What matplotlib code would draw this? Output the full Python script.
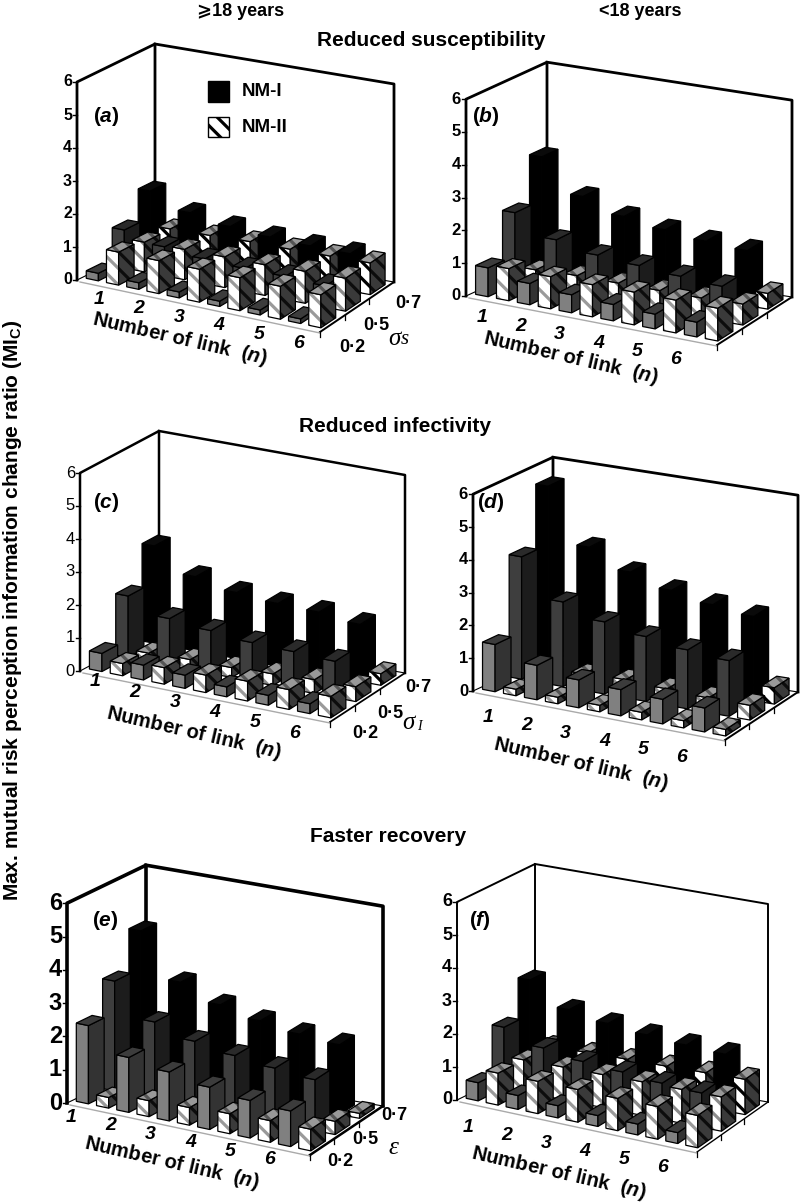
import numpy as np
import matplotlib
matplotlib.use("Agg")
import matplotlib.pyplot as plt
from matplotlib.patches import Polygon

plt.rcParams['font.family'] = ['Liberation Sans', 'DejaVu Sans']
plt.rcParams['mathtext.fontset'] = 'custom'
plt.rcParams['mathtext.bf'] = 'Liberation Sans:bold'
plt.rcParams['mathtext.it'] = 'Liberation Sans:italic:bold'
plt.rcParams['hatch.linewidth'] = 2.3

# bar heights, rows are the three parameter levels (0.2, 0.5, 0.7), columns the link numbers
a_nm1 = [[0.23, 0.20, 0.18, 0.16, 0.15, 0.14],
         [1.15, 0.88, 0.75, 0.70, 0.70, 0.65],
         [1.94, 1.50, 1.30, 1.20, 1.15, 1.13]]
a_nm2 = [[1.00, 1.00, 1.00, 1.00, 1.00, 1.00],
         [0.90, 0.92, 0.93, 0.93, 0.97, 1.00],
         [0.90, 0.92, 0.95, 0.94, 0.95, 0.96]]
b_nm1 = [[0.88, 0.65, 0.55, 0.50, 0.45, 0.45],
         [2.18, 1.58, 1.34, 1.25, 1.15, 1.07],
         [3.50, 2.50, 2.10, 1.90, 1.76, 1.68]]
b_nm2 = [[0.98, 0.98, 0.98, 1.00, 1.00, 1.00],
         [0.55, 0.60, 0.60, 0.60, 0.60, 0.64],
         [0.45, 0.45, 0.45, 0.45, 0.45, 0.48]]
c_nm1 = [[0.55, 0.45, 0.40, 0.30, 0.30, 0.30],
         [1.86, 1.42, 1.30, 1.18, 1.15, 1.10],
         [2.95, 2.25, 2.00, 1.90, 1.87, 1.73]]
c_nm2 = [[0.37, 0.50, 0.53, 0.60, 0.60, 0.65],
         [0.25, 0.30, 0.30, 0.35, 0.42, 0.45],
         [0.20, 0.25, 0.25, 0.30, 0.30, 0.35]]
d_nm1 = [[1.44, 1.05, 0.85, 0.80, 0.75, 0.73],
         [3.73, 2.58, 2.20, 1.98, 1.80, 1.70],
         [5.50, 3.85, 3.30, 2.95, 2.72, 2.57]]
d_nm2 = [[0.20, 0.20, 0.20, 0.23, 0.22, 0.20],
         [0.35, 0.50, 0.55, 0.50, 0.45, 0.45],
         [0.40, 0.40, 0.40, 0.40, 0.45, 0.50]]
e_nm1 = [[2.35, 1.65, 1.47, 1.27, 1.13, 1.07],
         [3.30, 2.31, 1.97, 1.78, 1.64, 1.53],
         [4.42, 3.10, 2.64, 2.38, 2.20, 2.10]]
e_nm2 = [[0.32, 0.48, 0.53, 0.60, 0.65, 0.65],
         [0.30, 0.30, 0.30, 0.35, 0.40, 0.40],
         [0.10, 0.10, 0.12, 0.12, 0.15, 0.15]]
f_nm1 = [[0.55, 0.42, 0.37, 0.33, 0.33, 0.33],
         [1.84, 1.45, 1.28, 1.20, 1.10, 1.04],
         [2.88, 2.20, 2.00, 1.87, 1.78, 1.72]]
f_nm2 = [[0.97, 0.98, 0.99, 0.98, 0.99, 0.98],
         [0.97, 0.99, 1.00, 1.02, 1.03, 1.04],
         [1.00, 1.00, 1.02, 1.03, 1.05, 1.07]]

n_labels = ['1', '2', '3', '4', '5', '6']
z_labels = ['0', '1', '2', '3', '4', '5', '6']
level_labels = ['0·2', '0·5', '0·7']

# pixel layout of every panel: floor corners, wall height, label places
panels = [
    dict(tag='a', nm1=a_nm1, nm2=a_nm2, FL=(77, 280), FR=(320, 332), BL=(155, 242), BR=(394, 282), zs=33.0,
         lw=2.0, tick=(72, 11.5, 'bold'), tag_xy=(106, 117), n_first=(99, 300), n_last=(299, 343),
         title_xy=(180, 339), levels=[(352, 348), (376, 326), (408, 303)], sym=('σ', 's', (394, 339), False)),
    dict(tag='b', nm1=b_nm1, nm2=b_nm2, FL=(466, 296), FR=(717, 345), BL=(547, 259), BR=(792, 297), zs=32.8,
         lw=2.0, tick=(461, 12, 'bold'), tag_xy=(486, 116), n_first=(482, 318), n_last=(676, 360),
         title_xy=(571, 358), levels=None, sym=None),
    dict(tag='c', nm1=c_nm1, nm2=c_nm2, FL=(80, 671), FR=(330, 722), BL=(159, 629), BR=(405, 673), zs=33.0,
         lw=1.8, tick=(75, 12, 'normal'), tag_xy=(106, 503), n_first=(95, 682), n_last=(295, 733),
         title_xy=(194, 733), levels=[(365, 734), (390, 713), (418, 688)], sym=('σ', 'I', (408, 723), True)),
    dict(tag='d', nm1=d_nm1, nm2=d_nm2, FL=(473, 691), FR=(725, 740), BL=(553, 654), BR=(798, 692), zs=32.8,
         lw=2.0, tick=(468, 12, 'bold'), tag_xy=(491, 503), n_first=(488, 717), n_last=(682, 757),
         title_xy=(581, 764), levels=None, sym=None),
    dict(tag='e', nm1=e_nm1, nm2=e_nm2, FL=(67, 1103), FR=(310, 1155), BL=(146, 1065), BR=(383, 1106), zs=33.3,
         lw=2.6, tick=(62, 17, 'bold'), tag_xy=(105, 920), n_first=(71, 1117), n_last=(270, 1160),
         title_xy=(172, 1163), levels=[(340, 1161), (365, 1139), (394, 1116)], sym=('ε', '', (393, 1148), False)),
    dict(tag='f', nm1=f_nm1, nm2=f_nm2, FL=(457, 1100), FR=(697, 1152), BL=(535, 1062), BR=(768, 1102), zs=33.0,
         lw=1.4, tick=(452, 13, 'bold'), tag_xy=(480, 921), n_first=(468, 1127), n_last=(663, 1167),
         title_xy=(559, 1173), levels=None, sym=None),
]

# face colours per row: NM-I (front, side, top), NM-II (front, front stripe, side, top)
NM1_COLORS = [('#808080', '#333333', '#3c3c3c'),
              ('#3e3e3e', '#1c1c1c', '#2a2a2a'),
              ('#000000', '#000000', '#0a0a0a')]
NM2_STRIPES = ['#9a9a9a', '#8c8c8c', '#000000']


def floor(p, u, v):
    a, b = u / 6.0, v / 3.0
    x = (1-a)*(1-b)*p['FL'][0] + a*(1-b)*p['FR'][0] + (1-a)*b*p['BL'][0] + a*b*p['BR'][0]
    y = (1-a)*(1-b)*p['FL'][1] + a*(1-b)*p['FR'][1] + (1-a)*b*p['BL'][1] + a*b*p['BR'][1]
    return x, y


def pt(p, u, v, z=0.0):
    x, y = floor(p, u, v)
    return x, y - z * p['zs']


def face(ax, xy, color, zo, stripe=None):
    if stripe:
        ax.add_patch(Polygon(xy, facecolor=color, edgecolor=stripe, hatch='\\\\', lw=0, zorder=zo))
        ax.add_patch(Polygon(xy, fill=False, edgecolor='black', lw=0.9, zorder=zo))
    else:
        ax.add_patch(Polygon(xy, facecolor=color, edgecolor='black', lw=0.9, zorder=zo))


def bar(ax, p, u0, v0, h, colors, stripes, zo):
    u1, v1 = u0 + 0.3, v0 + 0.6
    front = [pt(p, u0, v0), pt(p, u1, v0), pt(p, u1, v0, h), pt(p, u0, v0, h)]
    side = [pt(p, u1, v0), pt(p, u1, v1), pt(p, u1, v1, h), pt(p, u1, v0, h)]
    top = [pt(p, u0, v0, h), pt(p, u1, v0, h), pt(p, u1, v1, h), pt(p, u0, v1, h)]
    face(ax, front, colors[0], zo, stripes[0])
    face(ax, side, colors[1], zo, stripes[1])
    face(ax, top, colors[2], zo, stripes[2])


def draw_panel(ax, p):
    lw = p['lw']
    FL, FR, BL, BR = p['FL'], p['FR'], p['BL'], p['BR']
    h = 6 * p['zs']
    # walls and floor outline
    ax.plot([FL[0], FL[0], BL[0], BL[0]], [FL[1], FL[1]-h, BL[1]-h, BL[1]], color='black', lw=lw, zorder=2)
    ax.plot([BL[0], BR[0], BR[0]], [BL[1]-h, BR[1]-h, BR[1]], color='black', lw=lw, zorder=2)
    ax.plot([FL[0], BL[0], BR[0]], [FL[1], BL[1], BR[1]], color='black', lw=0.8, zorder=2)
    ax.plot([BR[0], FR[0]], [BR[1], FR[1]], color='black', lw=lw*0.7, zorder=2)
    ax.plot([FL[0]+3, FR[0]], [FL[1]+2, FR[1]+1], color='#aaaaaa', lw=1.0, zorder=2)

    # axis ticks
    tx, tsize, tweight = p['tick']
    for i, lab in enumerate(z_labels):
        y = FL[1] - i * p['zs']
        ax.plot([FL[0]-4, FL[0]], [y, y], color='black', lw=1.0, zorder=2)
        ax.text(tx, y, lab, ha='right', va='center', fontsize=tsize, fontweight=tweight)
    for v in range(3):
        x0, y0 = floor(p, 6, v)
        ax.plot([x0, x0], [y0, y0+5], color='black', lw=0.9, zorder=2)

    # painter order: back row first, left to right inside a row
    zo = 3
    for j in (2, 1, 0):
        for i in range(6):
            bar(ax, p, i + 0.1, j + 0.2, p['nm1'][j][i], NM1_COLORS[j], (None, None, None), zo)
            zo += 1
            stripe = NM2_STRIPES[j]
            bar(ax, p, i + 0.6, j + 0.2, p['nm2'][j][i], ('white', '#3a3a3a', '#999999'),
                (stripe, '#0c0c0c', '#555555'), zo)
            zo += 1

    # link number labels
    x1, y1 = p['n_first']
    x2, y2 = p['n_last']
    for i, lab in enumerate(n_labels):
        ax.text(x1 + (x2-x1)*i/5.0, y1 + (y2-y1)*i/5.0, lab, ha='center', va='center',
                fontsize=14, fontweight='bold', style='italic', zorder=200)
    ax.text(p['title_xy'][0], p['title_xy'][1], r'Number of link  ($\mathit{n}$)', ha='center', va='center',
            rotation=-13, rotation_mode='anchor', fontsize=14.5, fontweight='bold', zorder=200)
    ax.text(p['tag_xy'][0], p['tag_xy'][1], r'($\mathit{%s}$)' % p['tag'], ha='center', va='center',
            fontsize=15, fontweight='bold', zorder=200)
    if p['levels']:
        for lab, (x, y) in zip(level_labels, p['levels']):
            ax.text(x, y, lab, ha='center', va='center', fontsize=13, fontweight='bold', zorder=200)
        sym, sub, (sx, sy), small = p['sym']
        ax.text(sx, sy, sym, ha='center', va='center', fontsize=18, family='Liberation Serif',
                style='italic', zorder=200)
        if sub:
            ax.text(sx + 11, sy + (3 if small else 1), sub, ha='center', va='center', family='Liberation Serif',
                    fontsize=10 if small else 15, style='italic', zorder=200)


fig = plt.figure(figsize=(8.0, 12.02), dpi=100)
ax = fig.add_axes([0, 0, 1, 1])
ax.set_xlim(0, 800)
ax.set_ylim(1202, 0)
ax.axis('off')

for panel in panels:
    draw_panel(ax, panel)

# legend inside panel a
ax.add_patch(Polygon([(208, 81), (229, 81), (229, 102), (208, 102)], facecolor='black', edgecolor='black', zorder=300))
ax.add_patch(Polygon([(208, 117), (229, 117), (229, 137), (208, 137)], facecolor='white', edgecolor='black',
                     hatch='\\\\', lw=1, zorder=300))
ax.text(242, 92, 'NM-I', ha='left', va='center', fontsize=13.5, fontweight='bold', zorder=300)
ax.text(242, 128, 'NM-II', ha='left', va='center', fontsize=13.5, fontweight='bold', zorder=300)

# headers
ax.text(241, 12, '⩾18 years', ha='center', va='center', fontsize=13, fontweight='bold')
ax.text(640, 11, '<18 years', ha='center', va='center', fontsize=13, fontweight='bold')
ax.text(431, 41, 'Reduced susceptibility', ha='center', va='center', fontsize=15, fontweight='bold')
ax.text(395, 427, 'Reduced infectivity', ha='center', va='center', fontsize=15, fontweight='bold')
ax.text(388, 836, 'Faster recovery', ha='center', va='center', fontsize=15, fontweight='bold')
ax.text(13, 610, r'Max. mutual risk perception information change ratio (MI$_{\mathbf{C}}$)', rotation=90,
        ha='center', va='center', fontsize=15, fontweight='bold')

fig.savefig('out.png', dpi=100)
